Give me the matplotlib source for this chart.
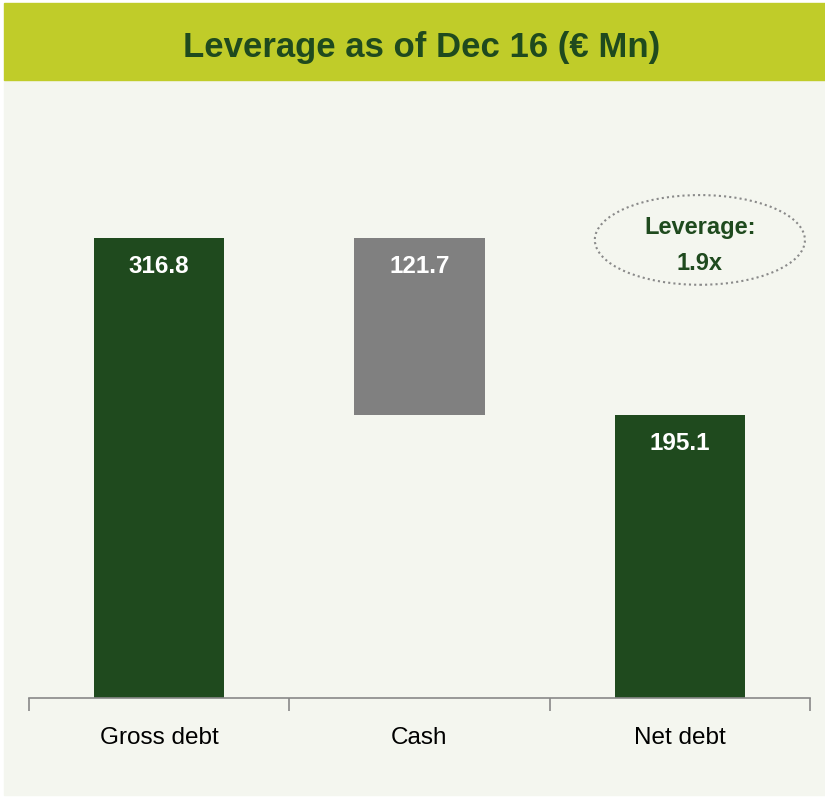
import matplotlib
matplotlib.use("Agg")
import matplotlib.pyplot as plt
from matplotlib.patches import Rectangle, Ellipse

categories = ["Gross debt", "Cash", "Net debt"]
values = [316.8, 121.7, 195.1]
value_labels = ["316.8", "121.7", "195.1"]
leverage_text = "Leverage:\n1.9x"
title = "Leverage as of Dec 16 (\u20ac Mn)"

dark_green = "#1f4a1e"
grey_bar = "#808080"
banner = "#c0cc29"
bg = "#f4f6ef"

plt.rcParams['font.family'] = ['Liberation Sans Narrow', 'Liberation Sans', 'DejaVu Sans']

fig = plt.figure(figsize=(8.25, 7.99), dpi=100)
fig.patch.set_facecolor("white")
fig.patches.append(Rectangle((4 / 825, 4 / 799), 821 / 825, 716 / 799,
                             transform=fig.transFigure, color=bg, zorder=-10))
fig.patches.append(Rectangle((4 / 825, 719 / 799), 821 / 825, 77 / 799,
                             transform=fig.transFigure, color=banner, zorder=-10))
fig.text(422 / 825, 752 / 799, title, ha="center", va="center",
         fontsize=25, fontweight="bold", color=dark_green)

ax = fig.add_axes([29 / 825, 101 / 799, 781 / 825, 598 / 799])
ax.set_facecolor("none")

# waterfall: cash hangs from top of gross debt
bottoms = [0, values[0] - values[1], 0]
colors = [dark_green, grey_bar, dark_green]
x = list(range(len(categories)))
ax.bar(x, values, bottom=bottoms, width=0.5, color=colors, zorder=2)

for xi, v, b, lab in zip(x, values, bottoms, value_labels):
    ax.text(xi, b + v - 12, lab, ha="center", va="top", color="white",
            fontsize=17.5, fontweight="bold", zorder=3)

ax.set_xlim(-0.5, 2.5)
ax.set_ylim(0, 598 / 460 * values[0])
for s in ["top", "right", "left"]:
    ax.spines[s].set_visible(False)
ax.spines["bottom"].set_color("#888888")
ax.spines["bottom"].set_linewidth(1.2)
ax.set_yticks([])
ax.set_xticks([-0.5, 0.5, 1.5, 2.5])
ax.set_xticklabels([])
ax.tick_params(axis="x", which="major", length=9, width=1.2, color="#888888")
ax.set_xticks(x, minor=True)
ax.set_xticklabels(categories, minor=True, fontsize=17.5)
ax.tick_params(axis="x", which="minor", length=0, pad=21)

ell = Ellipse((0.859, 0.766), 0.269, 0.150, transform=ax.transAxes,
              facecolor="none", edgecolor="#8a8a8a", linestyle=(0, (1, 1.5)),
              linewidth=1.5, clip_on=False)
ax.add_patch(ell)
ax.text(0.859, 0.757, leverage_text, transform=ax.transAxes, ha="center",
        va="center", fontsize=17, fontweight="bold", color=dark_green,
        linespacing=1.75)

fig.savefig("out.png", dpi=100)
